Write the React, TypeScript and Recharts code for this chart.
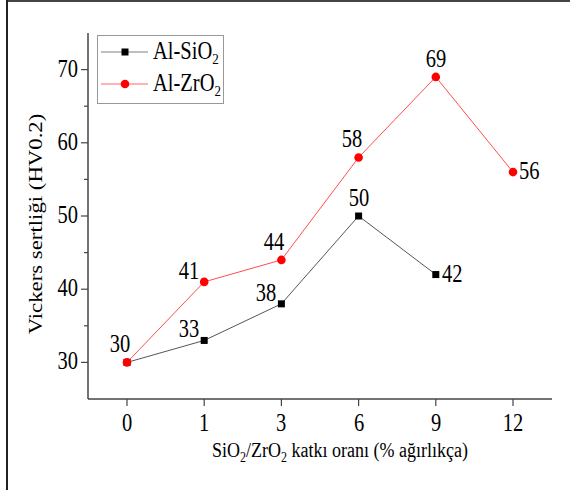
import React from "react"
import { LineChart, Line, XAxis, YAxis } from "recharts"

const categories = ["0", "1", "3", "6", "9", "12"]
const siO2Values = [30, 33, 38, 50, 42, null]
const zrO2Values = [30, 41, 44, 58, 69, 56]
const majorTicks = [30, 40, 50, 60, 70]
const minorTicks = [35, 45, 55, 65]
// where each value label sits next to its point
const siO2LabelSpots = ["", "nw", "nw", "up", "e", ""]
const zrO2LabelSpots = ["n", "nw", "n", "n", "up", "e"]

const data = categories.map((cat, i) => ({ cat, siO2: siO2Values[i], zrO2: zrO2Values[i] }))

const FONT = '"Liberation Serif", "Times New Roman", Times, serif'
const AXIS = "#444"
const SI_LINE = "#555"
const ZR_LINE = "#ff4d4d"
const ZR_DOT = "#ff0000"
const STRETCH = 1.2 // the source picture is a bit taller than it is wide

const spotOffsets: Record<string, { dx: number; dy: number; anchor: string }> = {
  nw: { dx: -15, dy: -3, anchor: "middle" },
  n: { dx: -7, dy: -10, anchor: "middle" },
  up: { dx: 0, dy: -10, anchor: "middle" },
  e: { dx: 6, dy: 7, anchor: "start" },
}

// text stretched vertically around its own baseline, snapped to whole pixels
function SText({ x, y, size = 20, anchor = "middle", children }: any) {
  return (
    <text
      transform={`translate(${Math.round(x)},${Math.round(y)}) scale(1,${STRETCH})`}
      x={0}
      y={0}
      textAnchor={anchor}
      fontSize={size}
      fontFamily={FONT}
      style={{ fontFamily: FONT }}
      fill="#000"
    >
      {children}
    </text>
  )
}

function makeLabel(spots: string[]) {
  return (props: any) => {
    const { x, y, value, index } = props
    const s = spotOffsets[spots[index]]
    if (!s || value == null) return null
    return (
      <SText x={x + s.dx} y={y + s.dy} anchor={s.anchor} size={20.5}>
        {value}
      </SText>
    )
  }
}

const SquareDot = (props: any) => {
  const { cx, cy, index } = props
  if (cx == null || cy == null) return <g key={index} />
  return <rect key={index} x={cx - 3.5} y={cy - 3.5} width={7} height={7} fill="#000" />
}

const CircleDot = (props: any) => {
  const { cx, cy, index } = props
  if (cx == null || cy == null) return <g key={index} />
  return <circle key={index} cx={cx} cy={cy} r={4.3} fill={ZR_DOT} />
}

const YTick = (props: any) => {
  const { x, y, payload } = props
  const major = majorTicks.includes(payload.value)
  return (
    <g>
      <line x1={x} x2={x - (major ? 7 : 4)} y1={y} y2={y} stroke={AXIS} strokeWidth={1.2} />
      {major && (
        <SText x={x - 10} y={y + 7} anchor="end" size={20.5}>
          {payload.value}
        </SText>
      )}
    </g>
  )
}

const XTick = (props: any) => {
  const { x, y, payload } = props
  return (
    <g>
      <line x1={x} x2={x} y1={y} y2={y + 7} stroke={AXIS} strokeWidth={1.2} />
      <SText x={x} y={y + 32} size={20.5}>
        {payload.value}
      </SText>
    </g>
  )
}

const XTitle = (props: any) => {
  const vb = props.viewBox
  const cx = vb.x + vb.width / 2 + 20
  return (
    <SText x={cx} y={vb.y + 58} size={18}>
      SiO<tspan fontSize={12} dy={4}>2</tspan>
      <tspan dy={-4}>/ZrO</tspan>
      <tspan fontSize={12} dy={4}>2</tspan>
      <tspan dy={-4}> katkı oranı (% ağırlıkça)</tspan>
    </SText>
  )
}

const YTitle = (props: any) => {
  const vb = props.viewBox
  const cy = Math.round(vb.y + vb.height / 2 + 8)
  return (
    <text
      transform={`translate(42,${cy}) rotate(-90) scale(${STRETCH},1)`}
      x={0}
      y={0}
      textAnchor="middle"
      fontSize={19}
      fontFamily={FONT}
      style={{ fontFamily: FONT }}
      fill="#000"
    >
      Vickers sertliği (HV0.2)
    </text>
  )
}

function LegendBox() {
  const rows = [
    { name: "Al-SiO", line: "#aaa", dot: "square" },
    { name: "Al-ZrO", line: "#ff9a9a", dot: "circle" },
  ]
  return (
    <svg width={128} height={70} style={{ position: "absolute", left: 97, top: 35 }}>
      <rect x={0.5} y={0.5} width={126} height={68} fill="#fff" stroke="#999" />
      {rows.map((r, i) => {
        const cy = 17 + i * 32
        return (
          <g key={r.name}>
            <line x1={4} x2={51} y1={cy} y2={cy} stroke={r.line} strokeWidth={1.5} />
            {r.dot === "square" ? (
              <rect x={24.5} y={cy - 3.5} width={7} height={7} fill="#000" />
            ) : (
              <circle cx={28} cy={cy} r={4.3} fill={ZR_DOT} />
            )}
            <SText x={56} y={cy + 7} anchor="start" size={20.5}>
              {r.name}
              <tspan fontSize={13} dy={4}>2</tspan>
            </SText>
          </g>
        )
      })}
    </svg>
  )
}

export default function App() {
  return (
    <div
      style={{
        position: "absolute",
        left: 0,
        top: 0,
        width: 570,
        height: 490,
        background: "#fff",
        fontFamily: FONT,
      }}
    >
      <div style={{ position: "absolute", left: 6, top: 0, width: 564, height: 2, background: "#444" }} />
      <div style={{ position: "absolute", left: 6, top: 0, width: 2, height: 490, background: "#222" }} />
      <LineChart width={570} height={490} data={data} margin={{ top: 33, right: 18, bottom: 0, left: 0 }}>
        <XAxis
          dataKey="cat"
          height={91}
          padding={{ left: 39, right: 39 }}
          axisLine={{ stroke: AXIS, strokeWidth: 1.5 }}
          tickLine={false}
          tickSize={0}
          tickMargin={0}
          tick={<XTick />}
          interval={0}
          label={<XTitle />}
        />
        <XAxis
          xAxisId="top"
          dataKey="cat"
          orientation="top"
          height={0}
          axisLine={{ stroke: AXIS, strokeWidth: 1.5 }}
          tick={false}
          tickLine={false}
        />
        <YAxis
          width={88}
          domain={[25, 75]}
          ticks={[...majorTicks, ...minorTicks].sort((a, b) => a - b)}
          axisLine={{ stroke: AXIS, strokeWidth: 1.5 }}
          tickLine={false}
          tickSize={0}
          tickMargin={0}
          tick={<YTick />}
          interval={0}
          label={<YTitle />}
        />
        <YAxis
          yAxisId="right"
          orientation="right"
          width={0}
          domain={[25, 75]}
          axisLine={{ stroke: AXIS, strokeWidth: 1.5 }}
          tick={false}
          tickLine={false}
        />
        <Line
          dataKey="siO2"
          stroke={SI_LINE}
          strokeWidth={1}
          dot={SquareDot}
          activeDot={false}
          label={makeLabel(siO2LabelSpots)}
          isAnimationActive={false}
        />
        <Line
          dataKey="zrO2"
          stroke={ZR_LINE}
          strokeWidth={1}
          dot={CircleDot}
          activeDot={false}
          label={makeLabel(zrO2LabelSpots)}
          isAnimationActive={false}
        />
      </LineChart>
      <LegendBox />
    </div>
  )
}
